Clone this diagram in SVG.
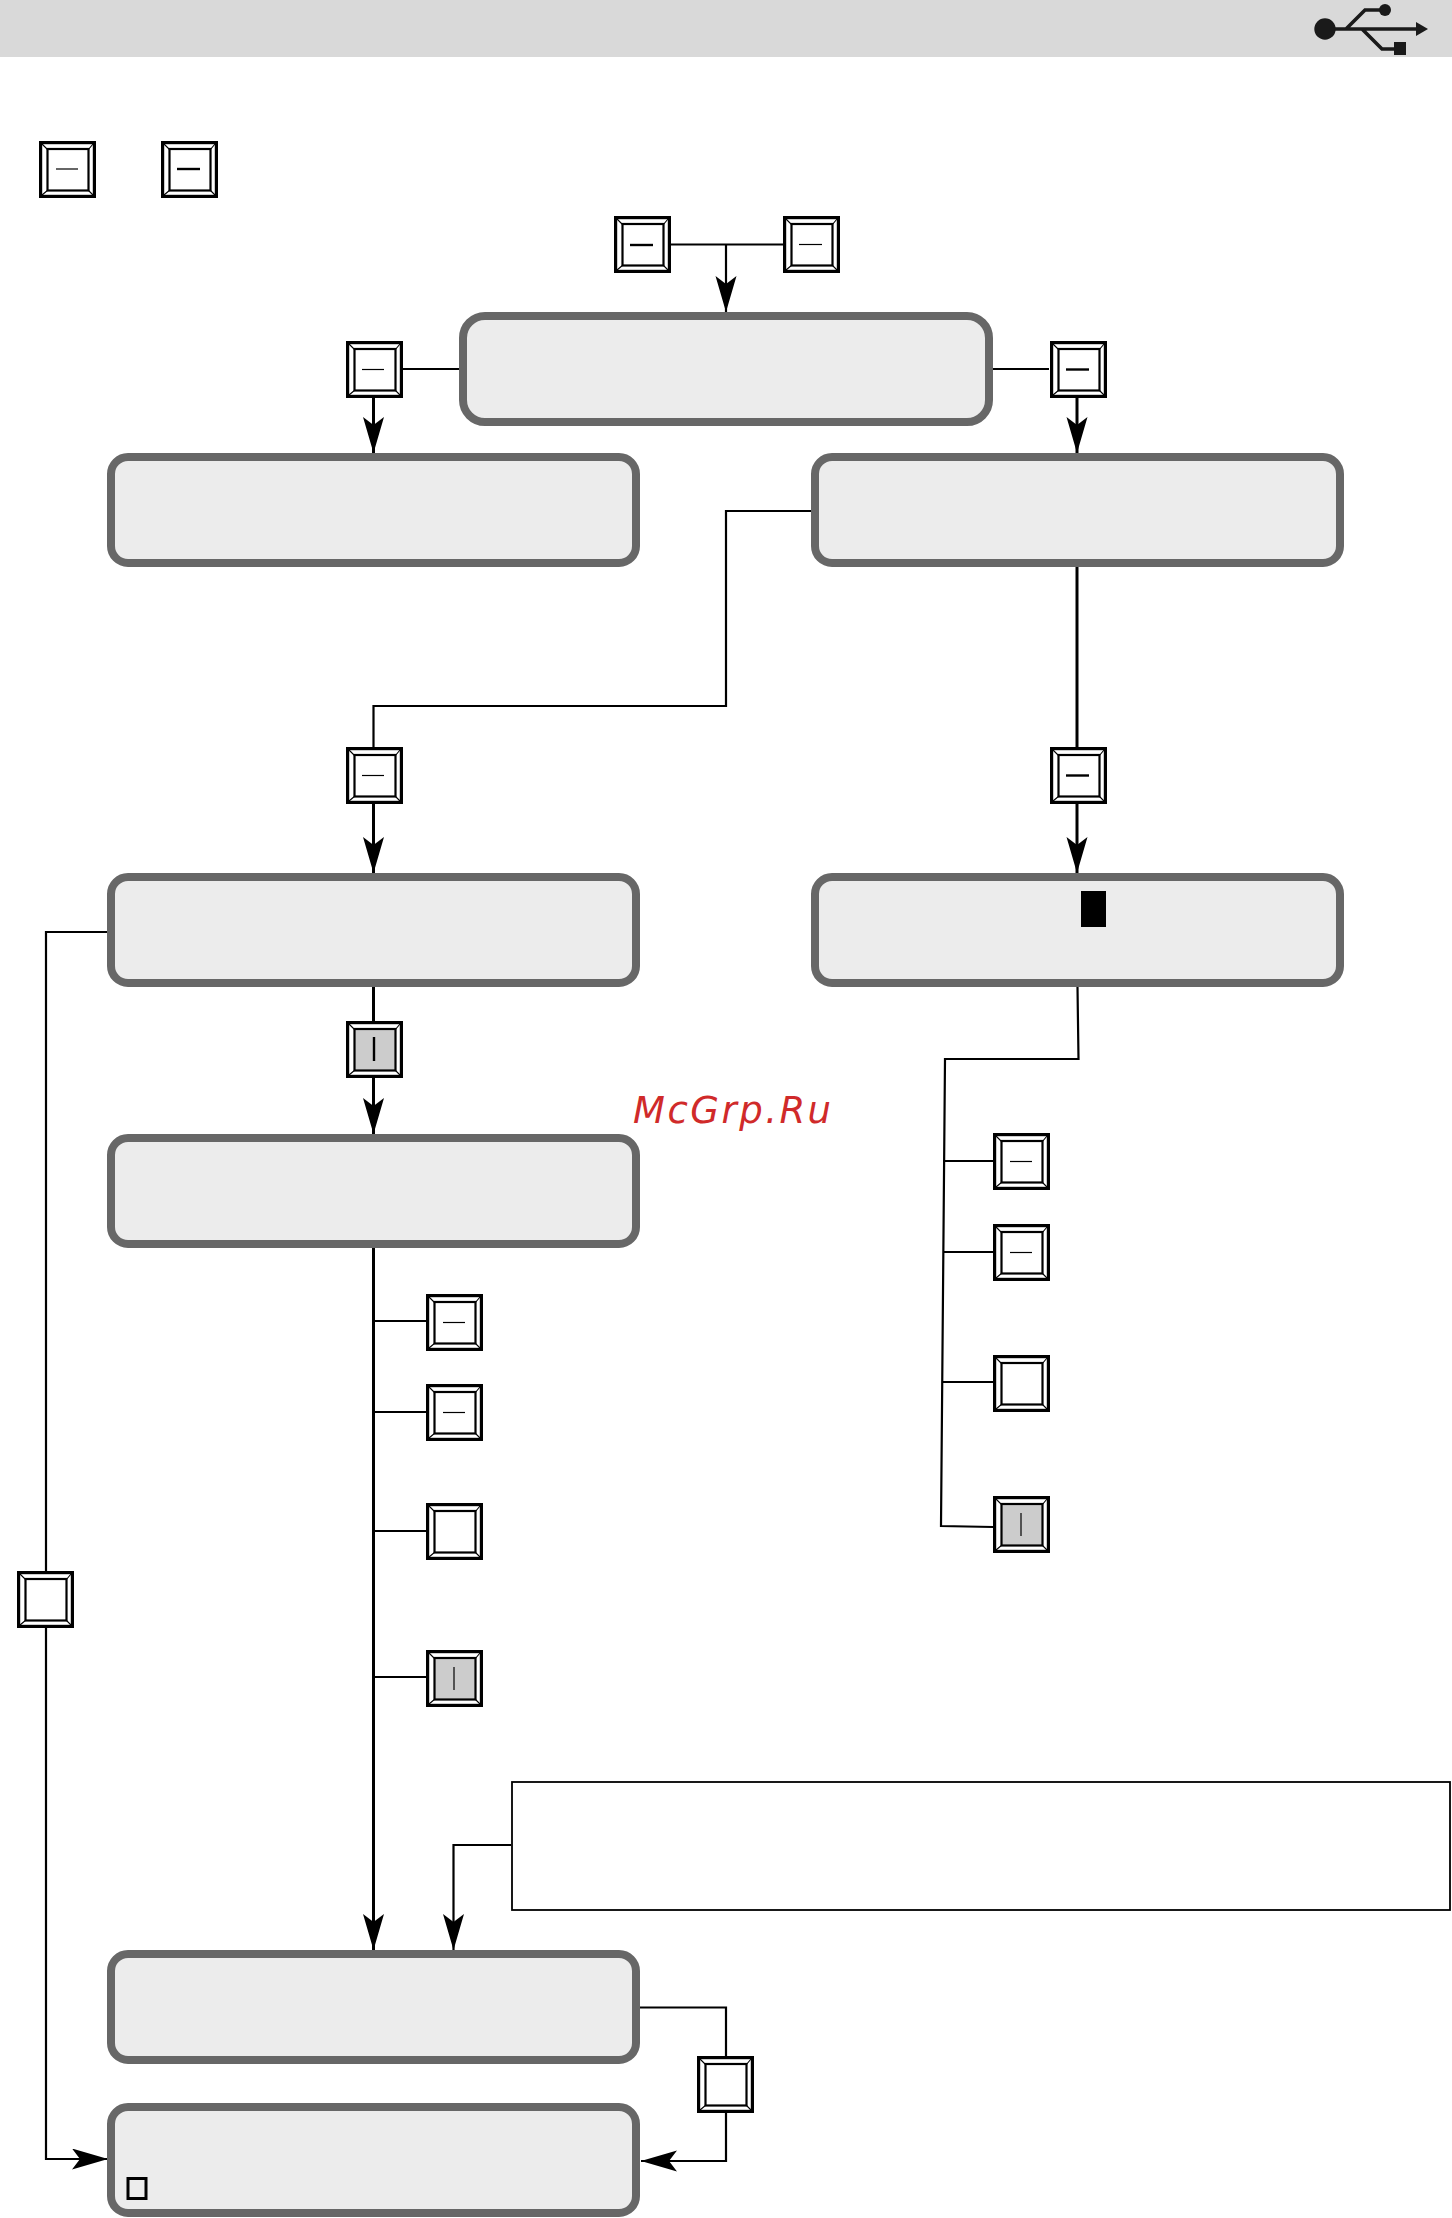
<svg xmlns="http://www.w3.org/2000/svg" width="1452" height="2218" viewBox="0 0 1452 2218">
<style>
.box{fill:#ececec;stroke:#676767;stroke-width:8}
.c{fill:none;stroke:#000;stroke-width:2.2}
.s{stroke-width:3}
.thin{stroke:#000;stroke-width:1.2;fill:none}
.thick{stroke:#000;stroke-width:2.4;fill:none}
.note{fill:#fff;stroke:#000;stroke-width:1.8}
.wm{font-family:"DejaVu Sans",sans-serif;font-style:oblique;font-size:37px;letter-spacing:2.5px;fill:#d02a2a}
</style>
<defs>
<marker id="ah" markerUnits="userSpaceOnUse" markerWidth="40" markerHeight="24" refX="36" refY="10.500" orient="auto">
<path d="M36 10.500L0 0L8 10.500L0 21Z" fill="#000"/>
</marker>
<g id="btn">
<rect x="1.600" y="1.600" width="53.800" height="53.800" fill="#fff" stroke="#000" stroke-width="3.200"/>
<path d="M3 3L9 9M54 3L49 9M3 54L9 49M54 54L49 49" stroke="#000" stroke-width="1.100"/>
<rect x="8.500" y="8" width="41" height="41.500" fill="#fff" stroke="#000" stroke-width="2.200"/>
</g>
<g id="btng">
<rect x="1.600" y="1.600" width="53.800" height="53.800" fill="#fff" stroke="#000" stroke-width="3.200"/>
<path d="M3 3L9 9M54 3L49 9M3 54L9 49M54 54L49 49" stroke="#000" stroke-width="1.100"/>
<rect x="8.500" y="8" width="41" height="41.500" fill="#ccc" stroke="#000" stroke-width="2.200"/>
</g>
</defs>

<g id="header">
<rect x="0" y="0" width="1452" height="57" fill="#d9d9d9"/>
<circle cx="1325" cy="29" r="10.700" fill="#1a1a1a"/>
<path d="M1330 29H1418M1346 29L1365 10H1385M1362 29L1382 49H1396" fill="none" stroke="#1a1a1a" stroke-width="3.600"/>
<path d="M1416 22L1428 29L1416 36Z" fill="#1a1a1a"/>
<circle cx="1385" cy="10" r="6" fill="#1a1a1a"/>
<rect x="1394" y="42" width="12" height="13" fill="#1a1a1a"/>
</g>

<g id="connectors">
<path class="c" d="M671 244.500H783"/>
<path class="c" d="M726 244.500V312" marker-end="url(#ah)"/>
<path class="c" d="M403 369H459"/>
<path class="c" d="M993 369H1049"/>
<path class="c s" d="M373.500 398V453" marker-end="url(#ah)"/>
<path class="c s" d="M1077 398V453" marker-end="url(#ah)"/>
<path class="c" d="M811 511H726V706H373.500V747"/>
<path class="c s" d="M373.500 804V873" marker-end="url(#ah)"/>
<path class="c s" d="M1077 567V747"/>
<path class="c s" d="M1077 804V873" marker-end="url(#ah)"/>
<path class="c" d="M108 932H46V1571"/>
<path class="c" d="M46 1628V2159H108" marker-end="url(#ah)"/>
<path class="c s" d="M373.500 987V1021"/>
<path class="c s" d="M373.500 1078V1134" marker-end="url(#ah)"/>
<path class="c s" d="M373.500 1248V1950" marker-end="url(#ah)"/>
<path class="c" d="M373.500 1321H426M373.500 1412H426M373.500 1531H426M373.500 1677H426"/>
<path class="c" d="M511 1845H453.500V1950" marker-end="url(#ah)"/>
<path class="c" d="M1077.500 987L1078.500 1059H945L941 1526L993 1527"/>
<path class="c" d="M943 1161H993M943 1252H993M942 1382H993"/>
<path class="c" d="M640 2007.500H726V2056"/>
<path class="c" d="M726 2112V2161H641" marker-end="url(#ah)"/>
</g>

<g id="box-start"><rect class="box" x="463" y="316" width="526" height="106" rx="22"/></g>
<g id="box-a"><rect class="box" x="111" y="457" width="525" height="106" rx="17"/></g>
<g id="box-b"><rect class="box" x="815" y="457" width="525" height="106" rx="17"/></g>
<g id="box-c"><rect class="box" x="111" y="877" width="525" height="106" rx="17"/></g>
<g id="box-d"><rect class="box" x="815" y="877" width="525" height="106" rx="17"/><rect x="1081" y="891" width="25" height="36" fill="#000"/></g>
<g id="box-e"><rect class="box" x="111" y="1138" width="525" height="106" rx="17"/></g>
<g id="box-f"><rect class="box" x="111" y="1954" width="525" height="106" rx="17"/></g>
<g id="box-g"><rect class="box" x="111" y="2107" width="525" height="106" rx="17"/><rect x="128" y="2178.500" width="18" height="20" fill="none" stroke="#000" stroke-width="3"/></g>

<g id="note"><rect class="note" x="512" y="1782" width="938" height="128"/></g>

<g id="btn-legend-1" transform="translate(39,141)"><use href="#btn"/><path class="thin" d="M17 28H39"/></g>
<g id="btn-legend-2" transform="translate(161,141)"><use href="#btn"/><path class="thick" d="M16 28H39"/></g>
<g id="btn-top-1" transform="translate(614,216)"><use href="#btn"/><path class="thick" d="M16 29H39"/></g>
<g id="btn-top-2" transform="translate(783,216)"><use href="#btn"/><path class="thin" d="M16 28.500H39"/></g>
<g id="btn-left" transform="translate(346,341)"><use href="#btn"/><path class="thin" d="M16 28.500H38"/></g>
<g id="btn-right" transform="translate(1050,341)"><use href="#btn"/><path class="thick" d="M16 28.500H39"/></g>
<g id="btn-mid-left" transform="translate(346,747)"><use href="#btn"/><path class="thin" d="M16 28.500H38"/></g>
<g id="btn-mid-right" transform="translate(1050,747)"><use href="#btn"/><path class="thick" d="M16 28.500H39"/></g>
<g id="btn-gray" transform="translate(346,1021)"><use href="#btng"/><path class="thick" d="M28 16V40"/></g>
<g id="btn-l1" transform="translate(426,1294)"><use href="#btn"/><path class="thin" d="M17 28.500H39"/></g>
<g id="btn-l2" transform="translate(426,1384)"><use href="#btn"/><path class="thin" d="M17 28.500H39"/></g>
<g id="btn-l3" transform="translate(426,1503)"><use href="#btn"/></g>
<g id="btn-l4" transform="translate(426,1650)"><use href="#btng"/><path class="thin" d="M28 17V40"/></g>
<g id="btn-r1" transform="translate(993,1133)"><use href="#btn"/><path class="thin" d="M17 28.500H39"/></g>
<g id="btn-r2" transform="translate(993,1224)"><use href="#btn"/><path class="thin" d="M17 28.500H39"/></g>
<g id="btn-r3" transform="translate(993,1355)"><use href="#btn"/></g>
<g id="btn-r4" transform="translate(993,1496)"><use href="#btng"/><path class="thin" d="M28 17V40"/></g>
<g id="btn-side" transform="translate(17,1571)"><use href="#btn"/></g>
<g id="btn-bottom" transform="translate(697,2056)"><use href="#btn"/></g>

<text class="wm" x="633" y="1123">McGrp.Ru</text>
</svg>
